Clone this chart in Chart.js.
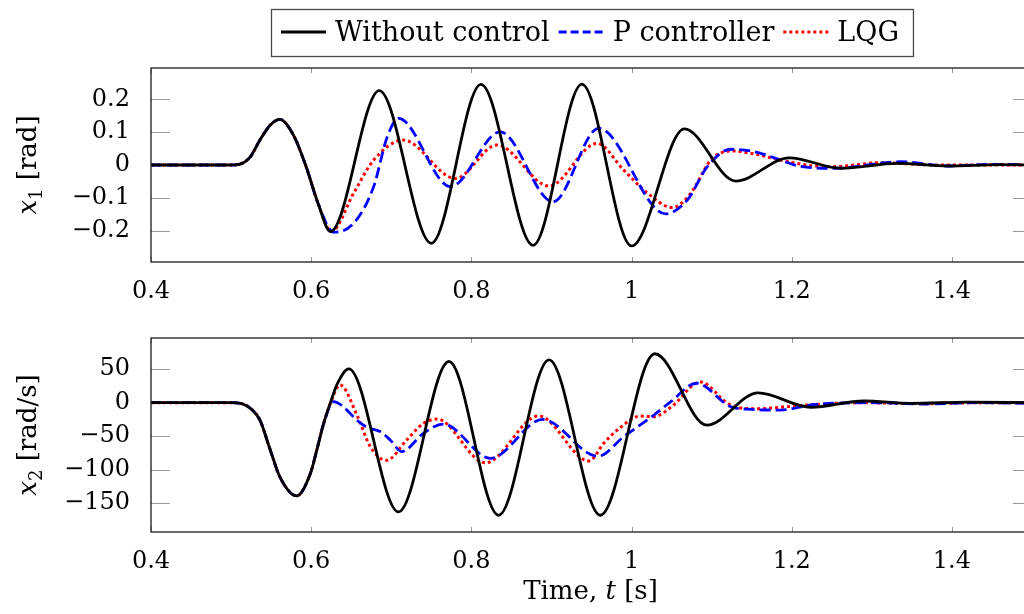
<!DOCTYPE html>
<html>
<head>
<meta charset="utf-8">
<title>Pendulum response</title>
<script src="https://cdn.jsdelivr.net/npm/chart.js@4.4.0/dist/chart.umd.min.js"></script>
<style>
  html, body { margin: 0; padding: 0; background: #fff; overflow: hidden; }
  body { width: 1024px; height: 614px; position: relative; }
  canvas { position: absolute; left: 0; }
  #x1Chart { top: 0; }
  #x2Chart { top: 300px; }
</style>
</head>
<body>
<canvas id="x1Chart" width="1040" height="300"></canvas>
<canvas id="x2Chart" width="1040" height="314"></canvas>
<script>
// ── Data ────────────────────────────────────────────────────────────────────
const timeTicks = [0.4, 0.6, 0.8, 1.0, 1.2, 1.4];
const x1Ticks = [-0.2, -0.1, 0, 0.1, 0.2];
const x2Ticks = [-150, -100, -50, 0, 50];

// x1 [rad]
const x1FreeT = [0.4, 0.5, 0.51, 0.524, 0.536, 0.549, 0.561, 0.577, 0.593, 0.609, 0.624, 0.685, 0.75,
  0.812, 0.877, 0.938, 1.0, 1.066, 1.13, 1.197, 1.261, 1.332, 1.395, 1.46, 1.5];
const x1FreeV = [0, 0, 0.002, 0.025, 0.076, 0.122, 0.139, 0.095, 0, -0.12, -0.203, 0.227, -0.239,
  0.246, -0.245, 0.247, -0.247, 0.110, -0.049, 0.022, -0.010, 0.005, -0.003, 0.001, 0];

const x1PT = [0.4, 0.5, 0.51, 0.524, 0.536, 0.549, 0.561, 0.577, 0.593, 0.609, 0.628, 0.653, 0.678, 0.695, 0.709, 0.774,
  0.836, 0.902, 0.959, 1.0425, 1.0696, 1.0946, 1.124, 1.153, 1.186, 1.208, 1.253, 1.336, 1.395, 1.45, 1.5];
const x1PV = [0, 0, 0.002, 0.025, 0.076, 0.122, 0.139, 0.095, 0, -0.12, -0.205, -0.178, -0.066, 0.086, 0.142, -0.066,
  0.101, -0.112, 0.112, -0.149, -0.107, -0.005, 0.048, 0.041, 0.015, -0.003, -0.010, 0.010, -0.003, 0.002, 0.001];

const x1LqgT = [0.4, 0.5, 0.51, 0.524, 0.536, 0.549, 0.561, 0.577, 0.593, 0.609, 0.625, 0.653, 0.678, 0.715, 0.78, 0.832,
  0.897, 0.957, 0.99, 1.02, 1.051, 1.074, 1.099, 1.124, 1.153, 1.186, 1.228, 1.253, 1.311, 1.38, 1.5];
const x1LqgV = [0, 0, 0.002, 0.025, 0.076, 0.122, 0.139, 0.095, 0, -0.12, -0.203, -0.086, 0.015, 0.076, -0.041, 0.061,
  -0.064, 0.066, -0.015, -0.086, -0.130, -0.086, 0.015, 0.043, 0.034, 0.015, -0.003, -0.005, 0.007, 0, 0];

// x2 [rad/s]
const x2FreeT = [0.4, 0.5, 0.512, 0.524, 0.536, 0.549, 0.561, 0.582, 0.599, 0.607, 0.615, 0.624, 0.633, 0.647, 0.709,
  0.772, 0.834, 0.897, 0.961, 1.029, 1.094, 1.158, 1.224, 1.29, 1.349, 1.42, 1.5];
const x2FreeV = [0, 0, -1, -8.4, -26, -71, -111, -139, -105.7, -70.8, -33.4, 0, 29, 50.4, -163,
  61.4, -168, 64, -168, 73, -33.4, 14.5, -6.9, 2.5, -1, 0.7, 0];

const x2PT = [0.4, 0.5, 0.512, 0.524, 0.536, 0.549, 0.561, 0.582, 0.599, 0.607, 0.615, 0.628, 0.640, 0.657, 0.67, 0.686,
  0.699, 0.713, 0.740, 0.765, 0.824, 0.889, 0.958, 0.99, 1.028, 1.049, 1.081, 1.124, 1.15, 1.186, 1.227, 1.30, 1.366, 1.43, 1.5];
const x2PV = [0, 0, -1, -8.4, -26, -71, -111, -139, -105.7, -70.8, -33.4, 1.5, -6, -26, -37, -43,
  -56, -73, -46, -32, -83, -25, -80, -51, -18.4, 1.5, 29, -6, -10, -11, -3, 0, -2, 0, -1];

const x2LqgT = [0.4, 0.5, 0.512, 0.524, 0.536, 0.549, 0.561, 0.582, 0.599, 0.607, 0.615, 0.624, 0.636, 0.658, 0.674, 0.694,
  0.719, 0.740, 0.757, 0.8175, 0.884, 0.947, 0.965, 0.986, 1.011, 1.028, 1.05, 1.086, 1.12, 1.14, 1.16, 1.193, 1.227, 1.28,
  1.366, 1.44, 1.5];
const x2LqgV = [0, 0, -1, -8.4, -26, -71, -111, -139, -105.7, -70.8, -33.4, -1, 26.5, -21, -66, -86,
  -56, -31, -24.4, -89.8, -19.9, -87, -61, -37, -20, -21, -6, 31, -1, -8.4, -9, -6, -3, 0,
  -1.5, 0, 0];

// ── Helpers ─────────────────────────────────────────────────────────────────
const FONT = '"DejaVu Serif", serif';

const toXY = (ts, vs) => ts.map((t, i) => ({ x: t, y: vs[i] }));

function fmtTick(v) {
  const s = String(Math.round(Math.abs(v) * 100) / 100);
  return v < 0 ? '\u2212' + s : s;
}

function series(label, ts, vs, color, dash, legendDash, width) {
  return {
    label, data: toXY(ts, vs),
    borderColor: color, borderWidth: width, borderDash: dash,
    legendDash, fill: false, pointRadius: 0,
    cubicInterpolationMode: 'monotone'
  };
}

// text made of runs: italic symbols, subscripts
function drawRuns(ctx, runs, cx, cy, angle, size) {
  const fonts = runs.map(r => `${r.italic ? 'italic ' : ''}${r.sub ? Math.round(size * 0.7) : size}px ${FONT}`);
  let total = 0;
  const widths = runs.map((r, i) => {
    ctx.font = fonts[i];
    const w = ctx.measureText(r.text).width;
    total += w;
    return w;
  });
  ctx.save();
  ctx.translate(cx, cy);
  ctx.rotate(angle);
  ctx.fillStyle = '#000';
  ctx.textBaseline = 'alphabetic';
  let x = -total / 2;
  const base = size * 0.36;
  runs.forEach((r, i) => {
    ctx.font = fonts[i];
    ctx.fillText(r.text, x, r.sub ? base + size * 0.2 : base);
    x += widths[i];
  });
  ctx.restore();
}

// ── Plugins ─────────────────────────────────────────────────────────────────
// pgf-style box with inward ticks
const axisBox = {
  id: 'axisBox',
  beforeDatasetsDraw(chart) {
    const { ctx, chartArea: a, scales: { x, y } } = chart;
    ctx.save();
    ctx.strokeStyle = '#9a9a9a';
    ctx.lineWidth = 1;
    ctx.beginPath();
    x.ticks.forEach(t => {
      const px = Math.round(x.getPixelForValue(t.value)) + 0.5;
      ctx.moveTo(px, a.top); ctx.lineTo(px, a.top + 5);
      ctx.moveTo(px, a.bottom); ctx.lineTo(px, a.bottom - 5);
    });
    y.ticks.forEach(t => {
      const py = Math.round(y.getPixelForValue(t.value)) + 0.5;
      ctx.moveTo(a.left, py); ctx.lineTo(a.left + 19, py);
      ctx.moveTo(a.right, py); ctx.lineTo(a.right - 19, py);
    });
    ctx.stroke();
    ctx.restore();
  },
  afterDatasetsDraw(chart) {
    const { ctx, chartArea: a } = chart;
    ctx.save();
    ctx.strokeStyle = '#2a2a2a';
    ctx.lineWidth = 1.4;
    ctx.strokeRect(a.left, a.top, a.right - a.left, a.bottom - a.top);
    ctx.restore();
  }
};

const axisTitles = {
  id: 'axisTitles',
  afterDraw(chart, args, opts) {
    const ctx = chart.ctx;
    const a = chart.chartArea;
    if (opts.y) drawRuns(ctx, opts.y, 27, (a.top + a.bottom) / 2, -Math.PI / 2, 26);
    if (opts.x) drawRuns(ctx, opts.x, (a.left + a.right) / 2 - 1, opts.xPos, 0, 26);
  }
};

const legendBox = {
  id: 'legendBox',
  afterDraw(chart, args, opts) {
    if (!opts.show) return;
    const ctx = chart.ctx;
    ctx.save();
    ctx.font = `27px ${FONT}`;
    const items = chart.data.datasets.map(ds => ({ ds, w: ctx.measureText(ds.label).width }));
    const sample = 45, gapIn = 9, gapOut = 9, padL = 10, padR = 14;
    const total = padL + padR + items.reduce((s, it) => s + sample + gapIn + it.w, 0) + gapOut * (items.length - 1);
    const left = Math.round(591.5 - total / 2), top = 9, h = 47;
    ctx.strokeStyle = '#4a4a4a';
    ctx.lineWidth = 1.3;
    ctx.strokeRect(left + 0.5, top + 0.5, total, h);
    let x = left + padL;
    const cy = top + h / 2 - 0.5;
    items.forEach(({ ds, w }) => {
      ctx.strokeStyle = ds.borderColor;
      ctx.lineWidth = ds.borderWidth;
      ctx.setLineDash(ds.legendDash);
      ctx.beginPath();
      ctx.moveTo(x, cy); ctx.lineTo(x + sample, cy);
      ctx.stroke();
      ctx.setLineDash([]);
      ctx.fillStyle = '#000';
      ctx.textBaseline = 'alphabetic';
      ctx.fillText(ds.label, x + sample + gapIn, top + 32);
      x += sample + gapIn + w + gapOut;
    });
    ctx.restore();
  }
};

// ── Chart factory ───────────────────────────────────────────────────────────
function makeChart(canvasId, datasets, yMin, yMax, yTicks, plotTop, xAxisHeight, titles, showLegend) {
  return new Chart(document.getElementById(canvasId), {
    type: 'line',
    data: { datasets },
    plugins: [axisBox, axisTitles, legendBox],
    options: {
      responsive: false,
      animation: false,
      layout: { padding: { top: plotTop, right: 8, left: 0, bottom: 0 } },
      plugins: {
        legend: { display: false },
        tooltip: { enabled: false },
        axisTitles: titles,
        legendBox: { show: showLegend }
      },
      scales: {
        x: {
          type: 'linear', min: 0.4, max: 1.5,
          afterBuildTicks: s => { s.ticks = timeTicks.map(v => ({ value: v })); },
          afterFit: s => { s.height = xAxisHeight; },
          grid: { display: false },
          border: { display: false },
          ticks: {
            padding: 7, color: '#000', maxRotation: 0, autoSkip: false,
            font: { family: FONT, size: 24 }, callback: fmtTick
          }
        },
        y: {
          type: 'linear', min: yMin, max: yMax,
          afterBuildTicks: s => { s.ticks = yTicks.map(v => ({ value: v })); },
          afterFit: s => { s.width = 151; },
          grid: { display: false },
          border: { display: false },
          ticks: {
            padding: 13, color: '#000', autoSkip: false,
            font: { family: FONT, size: 24 }, callback: fmtTick
          }
        }
      }
    }
  });
}

const LINE_W = 2.8;

makeChart('x1Chart', [
  series('Without control', x1FreeT, x1FreeV, '#000000', [], [], LINE_W),
  series('P controller', x1PT, x1PV, '#0000ff', [11, 5], [8, 4], LINE_W),
  series('LQG', x1LqgT, x1LqgV, '#ff0000', [3, 3], [3, 3], 3)
], -0.296, 0.296, x1Ticks, 68, 38, {
  y: [{ text: 'x', italic: true }, { text: '1', sub: true }, { text: ' [rad]' }]
}, true);

makeChart('x2Chart', [
  series('Without control', x2FreeT, x2FreeV, '#000000', [], [], LINE_W),
  series('P controller', x2PT, x2PV, '#0000ff', [11, 5], [8, 4], LINE_W),
  series('LQG', x2LqgT, x2LqgV, '#ff0000', [3, 3], [3, 3], 3)
], -193, 96.5, x2Ticks, 38, 82, {
  y: [{ text: 'x', italic: true }, { text: '2', sub: true }, { text: ' [rad/s]' }],
  x: [{ text: 'Time, ' }, { text: 't', italic: true }, { text: ' [s]' }],
  xPos: 290
}, false);
</script>
</body>
</html>
